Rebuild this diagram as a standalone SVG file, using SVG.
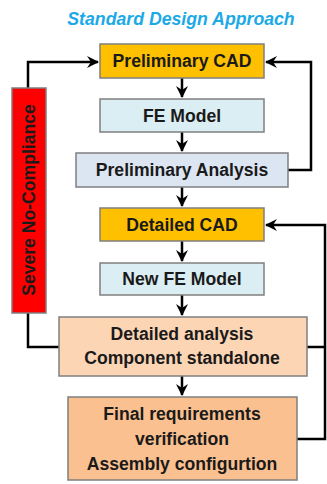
<svg xmlns="http://www.w3.org/2000/svg" width="327" height="484" viewBox="0 0 327 484">
<style>
.box{stroke:#7f7f7f;stroke-width:1.5}
.t{font-family:"Liberation Sans",Arial,sans-serif;font-weight:bold;font-size:17.6px;fill:#1a1a1a;text-anchor:middle}
.c{fill:none;stroke:#000;stroke-width:2.5;stroke-linejoin:miter}
</style>
<defs>
<marker id="ah" markerUnits="userSpaceOnUse" markerWidth="14" markerHeight="14" refX="12" refY="7" orient="auto">
<path d="M1,1 L13,7 L1,13 L5,7 z" fill="#000"/>
</marker>
</defs>
<rect width="327" height="484" fill="#fff"/>
<text x="181" y="25" font-family="'Liberation Sans',Arial,sans-serif" font-weight="bold" font-style="italic" font-size="17.7" fill="#1ca9e6" text-anchor="middle">Standard Design Approach</text>
<g id="connectors">
<path class="c" d="M182,78 V97" marker-end="url(#ah)"/>
<path class="c" d="M182,132 V151" marker-end="url(#ah)"/>
<path class="c" d="M182,187 V206" marker-end="url(#ah)"/>
<path class="c" d="M182,241 V261" marker-end="url(#ah)"/>
<path class="c" d="M182,295 V315" marker-end="url(#ah)"/>
<path class="c" d="M182,376 V395" marker-end="url(#ah)"/>
<path class="c" d="M28,88 V62 H98" marker-end="url(#ah)"/>
<path class="c" d="M28,313 V347 H59"/>
<path class="c" d="M288,170 H311 V62 H266" marker-end="url(#ah)"/>
<path class="c" d="M297,439 H325 V225 H266" marker-end="url(#ah)"/>
<path class="c" d="M307,347 H325"/>
</g>
<g id="prelim-cad"><rect class="box" x="100" y="44" width="164" height="34" fill="#ffc000"/><text class="t" x="182" y="67">Preliminary CAD</text></g>
<g id="fe-model"><rect class="box" x="100" y="99" width="164" height="33" fill="#daeef3"/><text class="t" x="182" y="122">FE Model</text></g>
<g id="prelim-analysis"><rect class="box" x="76" y="153" width="212" height="34" fill="#dce6f2"/><text class="t" x="182" y="176">Preliminary Analysis</text></g>
<g id="detailed-cad"><rect class="box" x="100" y="208" width="164" height="33" fill="#ffc000"/><text class="t" x="182" y="231">Detailed CAD</text></g>
<g id="new-fe-model"><rect class="box" x="100" y="263" width="164" height="32" fill="#daeef3"/><text class="t" x="182" y="285">New FE Model</text></g>
<g id="detailed-analysis"><rect class="box" x="59" y="317" width="248" height="59" fill="#fcd5b5"/><text class="t" x="182" y="340">Detailed analysis</text><text class="t" x="182" y="364">Component standalone</text></g>
<g id="final"><rect class="box" x="68" y="397" width="229" height="83" fill="#fac090"/><text class="t" x="182" y="420">Final requirements</text><text class="t" x="182" y="445">verification</text><text class="t" x="182" y="470">Assembly configurtion</text></g>
<g id="severe"><rect class="box" x="12" y="88" width="34" height="225" fill="#ff0000"/><text class="t" transform="translate(29,200) rotate(-90)" x="0" y="6">Severe No-Compliance</text></g>
</svg>
